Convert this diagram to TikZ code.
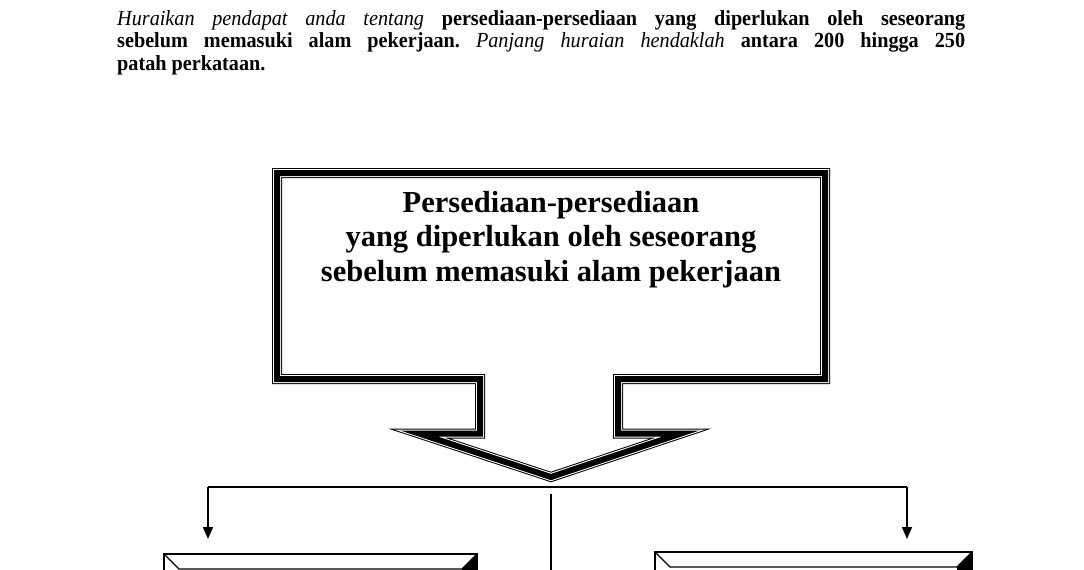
\documentclass[tikz,border=0pt]{standalone}
\usepackage{fontspec}
\setmainfont{Liberation Serif}
\newfontfamily\sempit[FakeStretch=0.94]{Liberation Serif}
\usetikzlibrary{arrows.meta}

\tikzset{
	garis/.style={line width=1.6pt, line join=miter},
	anak panah/.style={garis, -{Triangle[width=10pt,length=12pt]}},
	bingkai/.style={line width=1.3pt, line join=miter}
}

\begin{document}
\begin{tikzpicture}[x=1pt, y=-1pt]
		\useasboundingbox (0,0) rectangle (1084,570);
		\clip (0,0) rectangle (1084,570);
	
		% Draw the question text
		\node[anchor=base west, text width=848pt, align=justify, inner sep=0pt,
			font=\sempit\fontsize{21.5}{22.5}\selectfont\frenchspacing] (soalan) at (117,25)
			{\textit{Huraikan pendapat anda tentang} \textbf{persediaan-persediaan yang diperlukan oleh seseorang}\linebreak
			\textbf{sebelum memasuki alam pekerjaan.} \textit{Panjang huraian hendaklah} \textbf{antara 200 hingga 250}\linebreak
			\textbf{patah perkataan.}};
	
		% Draw the callout arrow (thin-thick-thin outline)
		\foreach \lebar/\warna in {10/black, 8/white, 6/black}
			\draw[line width=\lebar pt, line join=miter, miter limit=12, draw=\warna]
				(277,173) -- (825,173) -- (825,379) -- (618,379) -- (618,433.5)
				-- (681,433.5) -- (551,477) -- (419,433.5) -- (480,433.5) -- (480,379)
				-- (277,379) -- cycle;
	
		% Title inside the callout
		\node[anchor=base, align=center, inner sep=0pt,
			font=\fontsize{30.5}{34.5}\selectfont\bfseries] (tajuk) at (551,281)
			{Persediaan-persediaan\\ yang diperlukan oleh seseorang\\ sebelum memasuki alam pekerjaan};
	
		% Points of the connectors
		\coordinate (hujung) at (551,487);
		\coordinate (kiri) at (208,487);
		\coordinate (kanan) at (907,487);
		\coordinate (kotakkiri) at (208,539);
		\coordinate (kotakkanan) at (907,539);
		\coordinate (tengah) at (551,494);
		\coordinate (bawah) at (551,580);
	
		% Draw the horizontal line and the arrows
		\draw[garis] (kiri) -- (hujung) -- (kanan);
		\draw[anak panah] (kiri) -- (kotakkiri);
		\draw[anak panah] (kanan) -- (kotakkanan);
		\draw[garis] (tengah) -- (bawah);
	
		% Draw the left bevel box
		\draw[bingkai] (164,620) -- (164,554) -- (477,554) -- (477,620);
		\draw[bingkai] (164,554) -- (179,569) -- (462,569) -- (477,554);
		\fill (477,554) -- (462,569) -- (462,620) -- (477,620) -- cycle;
	
		% Draw the right bevel box
		\draw[bingkai] (655,620) -- (655,552) -- (972,552) -- (972,620);
		\draw[bingkai] (655,552) -- (670,567) -- (957,567) -- (972,552);
		\fill (972,552) -- (957,567) -- (957,620) -- (972,620) -- cycle;
	
	\end{tikzpicture}
\end{document}
